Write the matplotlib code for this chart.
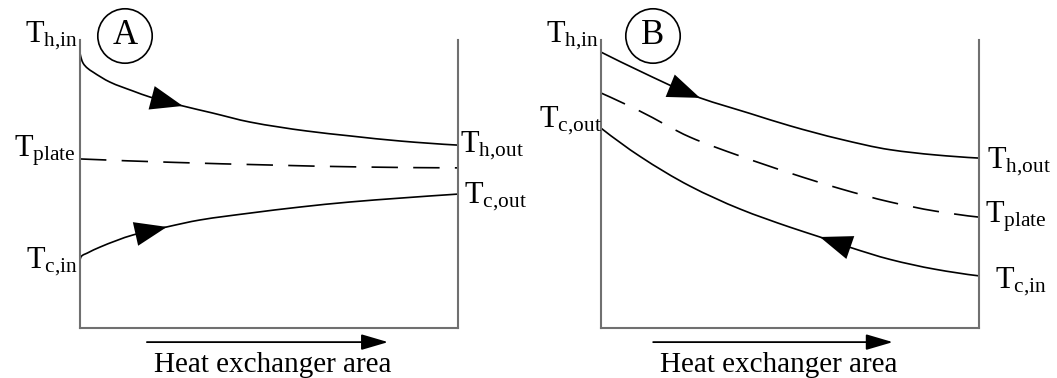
import matplotlib
matplotlib.use("Agg")
import matplotlib.pyplot as plt
import numpy as np
from matplotlib.patches import Circle, PathPatch
from matplotlib.path import Path

plt.rcParams['font.family'] = ['Liberation Serif', 'DejaVu Serif']
plt.rcParams['mathtext.default'] = 'regular'
plt.rcParams['lines.scale_dashes'] = False

# Panel A: parallel flow
area_hot_a = [0, 0.003, 0.008, 0.019, 0.034, 0.079, 0.14, 0.185, 0.272, 0.349,
              0.45, 0.6, 0.714, 0.849, 1.0]
temp_hot_a = [95.5, 93.75, 92.0, 90.3, 88.9, 85.4, 82.3, 80.2, 77.1, 74.7,
              71.5, 68.4, 66.7, 64.9, 63.5]
area_cold_a = [0, 0.003, 0.019, 0.053, 0.14, 0.23, 0.317, 0.45, 0.582, 0.714,
               0.847, 1.0]
temp_cold_a = [23.6, 24.8, 26.0, 28.1, 32.3, 35.1, 37.5, 39.9, 42.0, 43.75,
               45.1, 46.5]
area_plate_a = [0, 0.25, 0.5, 0.75, 1.0]
temp_plate_a = [58.7, 57.5, 56.6, 55.9, 55.6]

# Panel B: counter flow
area_hot_b = [0, 0.103, 0.235, 0.262, 0.394, 0.5, 0.632, 0.765, 0.884, 1.0]
temp_hot_b = [95.8, 89.2, 81.25, 79.9, 74.5, 70.2, 65.6, 61.9, 60.1, 59.0]
area_plate_b = [0, 0.103, 0.235, 0.368, 0.5, 0.632, 0.765, 0.884, 1.0]
temp_plate_b = [81.6, 75.3, 66.3, 59.7, 53.8, 48.4, 43.75, 40.6, 38.5]
area_cold_b = [0, 0.103, 0.235, 0.368, 0.5, 0.579, 0.659, 0.765, 0.884, 1.0]
temp_cold_b = [69.4, 59.6, 49.3, 41.3, 35.0, 31.6, 28.0, 23.8, 20.4, 18.1]

spine_color = '#707070'
label_size = 22
xlabel = 'Heat exchanger area'


def slopes(x, y):
    # monotone (Fritsch-Butland) tangents so the curves stay smooth
    x = np.asarray(x, float)
    y = np.asarray(y, float)
    h = np.diff(x)
    d = np.diff(y) / h
    m = np.zeros_like(y)
    for k in range(1, len(y) - 1):
        if d[k - 1] * d[k] > 0:
            w1 = 2 * h[k] + h[k - 1]
            w2 = h[k] + 2 * h[k - 1]
            m[k] = (w1 + w2) / (w1 / d[k - 1] + w2 / d[k])
    for i, a, b in ((0, 0, 1), (-1, -1, -2)):
        h0, h1, d0, d1 = h[a], h[b], d[a], d[b]
        e = ((2 * h0 + h1) * d0 - h0 * d1) / (h0 + h1)
        if e * d0 <= 0:
            e = 0
        elif d0 * d1 <= 0 and abs(e) > 3 * abs(d0):
            e = 3 * d0
        m[i] = e
    return x, y, h, m


def curve_path(xs, ys):
    x, y, h, m = slopes(xs, ys)
    verts = [(x[0], y[0])]
    codes = [Path.MOVETO]
    for i in range(len(x) - 1):
        verts += [(x[i] + h[i] / 3, y[i] + m[i] * h[i] / 3),
                  (x[i + 1] - h[i] / 3, y[i + 1] - m[i + 1] * h[i] / 3),
                  (x[i + 1], y[i + 1])]
        codes += [Path.CURVE4] * 3
    return Path(verts, codes)


def curve_y(xs, ys, xq):
    x, y, h, m = slopes(xs, ys)
    i = min(max(np.searchsorted(x, xq) - 1, 0), len(x) - 2)
    t = (xq - x[i]) / h[i]
    return ((2 * t**3 - 3 * t**2 + 1) * y[i] + (t**3 - 2 * t**2 + t) * h[i] * m[i]
            + (-2 * t**3 + 3 * t**2) * y[i + 1] + (t**3 - t**2) * h[i] * m[i + 1])


def draw_curve(ax, xs, ys, ls='-'):
    ax.add_patch(PathPatch(curve_path(xs, ys), fill=False, ec='black', lw=1.2,
                           ls=ls, capstyle='butt'))


def flow_arrow(ax, xs, ys, x_tip, step):
    # filled triangle sitting on the curve, pointing along the flow
    x_back = x_tip - step
    ax.annotate('', xy=(x_tip, curve_y(xs, ys, x_tip)),
                xytext=(x_back, curve_y(xs, ys, x_back)),
                arrowprops=dict(arrowstyle='-|>,head_length=0.8,head_width=0.3',
                                mutation_scale=29, fc='black', ec='black', lw=0,
                                shrinkA=0, shrinkB=0))


def area_axis(ax, x0, x1, xt):
    ax.annotate('', xy=(x1, -0.049), xytext=(x0, -0.049), xycoords='axes fraction',
                annotation_clip=False,
                arrowprops=dict(arrowstyle='-|>,head_length=0.75,head_width=0.22',
                                mutation_scale=22, fc='black', ec='black', lw=1.3,
                                shrinkA=0, shrinkB=0))
    ax.text(xt, -0.153, xlabel, transform=ax.transAxes, ha='center',
            va='baseline', fontsize=21)


fig = plt.figure(figsize=(10.57, 3.78), dpi=100)
ax_a = fig.add_axes([80 / 1057, 50 / 378, 378 / 1057, 288 / 378])
ax_b = fig.add_axes([601 / 1057, 50 / 378, 378 / 1057, 288 / 378])

for ax in (ax_a, ax_b):
    ax.set_xlim(0, 1)
    ax.set_ylim(0, 100)
    ax.set_xticks([])
    ax.set_yticks([])
    ax.spines['top'].set_visible(False)
    for s in ('left', 'right', 'bottom'):
        ax.spines[s].set_color(spine_color)
        ax.spines[s].set_linewidth(1.5)

dash = (0, (19, 11))

# panel A
draw_curve(ax_a, area_hot_a, temp_hot_a)
draw_curve(ax_a, area_cold_a, temp_cold_a)
draw_curve(ax_a, area_plate_a, temp_plate_a, ls=dash)
flow_arrow(ax_a, area_hot_a, temp_hot_a, 0.272, 0.06)
flow_arrow(ax_a, area_cold_a, temp_cold_a, 0.23, 0.06)
area_axis(ax_a, 0.177, 0.815, 0.509)

ax_a.text(-0.005, 99.3, r'$T_{h{,}in}$', ha='right', va='baseline', fontsize=label_size)
ax_a.text(-0.01, 59.4, r'$T_{plate}$', ha='right', va='baseline', fontsize=label_size)
ax_a.text(-0.005, 20.8, r'$T_{c{,}in}$', ha='right', va='baseline', fontsize=label_size)
ax_a.text(1.005, 61.1, r'$T_{h{,}out}$', ha='left', va='baseline', fontsize=label_size)
ax_a.text(1.016, 43.4, r'$T_{c{,}out}$', ha='left', va='baseline', fontsize=label_size)

# panel B
draw_curve(ax_b, area_hot_b, temp_hot_b)
draw_curve(ax_b, area_cold_b, temp_cold_b)
draw_curve(ax_b, area_plate_b, temp_plate_b, ls=dash)
flow_arrow(ax_b, area_hot_b, temp_hot_b, 0.262, 0.06)
flow_arrow(ax_b, area_cold_b, temp_cold_b, 0.579, -0.06)
area_axis(ax_b, 0.138, 0.772, 0.471)

ax_b.text(-0.005, 99.3, r'$T_{h{,}in}$', ha='right', va='baseline', fontsize=label_size)
ax_b.text(0.003, 69.8, r'$T_{c{,}out}$', ha='right', va='baseline', fontsize=label_size)
ax_b.text(1.021, 55.6, r'$T_{h{,}out}$', ha='left', va='baseline', fontsize=label_size)
ax_b.text(1.016, 36.5, r'$T_{plate}$', ha='left', va='baseline', fontsize=label_size)
ax_b.text(1.042, 13.9, r'$T_{c{,}in}$', ha='left', va='baseline', fontsize=label_size)

# panel letters in circles
for cx, letter in ((1.25, 'A'), (6.53, 'B')):
    fig.patches.append(Circle((cx, 3.42), 0.272, transform=fig.dpi_scale_trans,
                              fill=False, ec='black', lw=1.2))
    fig.text(cx, 3.42, letter, transform=fig.dpi_scale_trans, ha='center',
             va='center', fontsize=25)

fig.savefig('out.png', dpi=100)
